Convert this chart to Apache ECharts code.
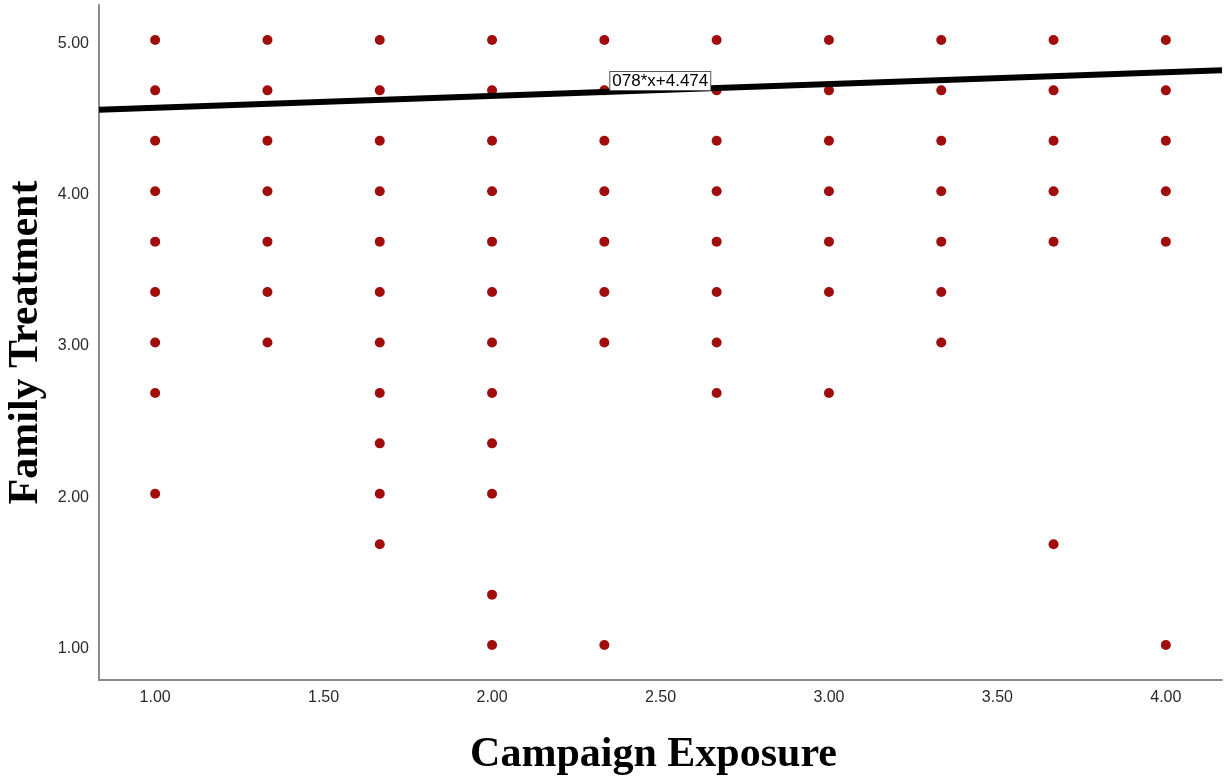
<!DOCTYPE html>
<html>
<head>
<meta charset="utf-8">
<script src="https://cdn.jsdelivr.net/npm/echarts@6/dist/echarts.min.js"></script>
<style>
  html, body { margin: 0; padding: 0; background: #fff; }
  #chart { width: 1225px; height: 778px; }
</style>
</head>
<body>
<div id="chart"></div>
<script>
// Campaign exposure levels (x) and the family treatment scores seen at each level
const exposureLevels = [1, 4/3, 5/3, 2, 7/3, 8/3, 3, 10/3, 11/3, 4];
const treatmentByLevel = [
  [5, 14/3, 13/3, 4, 11/3, 10/3, 3, 8/3, 2],
  [5, 14/3, 13/3, 4, 11/3, 10/3, 3],
  [5, 14/3, 13/3, 4, 11/3, 10/3, 3, 8/3, 7/3, 2, 5/3],
  [5, 14/3, 13/3, 4, 11/3, 10/3, 3, 8/3, 7/3, 2, 4/3, 1],
  [5, 14/3, 13/3, 4, 11/3, 10/3, 3, 1],
  [5, 14/3, 13/3, 4, 11/3, 10/3, 3, 8/3],
  [5, 14/3, 13/3, 4, 11/3, 10/3, 8/3],
  [5, 14/3, 13/3, 4, 11/3, 10/3, 3],
  [5, 14/3, 13/3, 4, 11/3, 5/3],
  [5, 14/3, 13/3, 4, 11/3, 1]
];
const xTicks = [1.0, 1.5, 2.0, 2.5, 3.0, 3.5, 4.0];
const yTicks = [1, 2, 3, 4, 5];
const fitSlope = 0.078;
const fitIntercept = 4.474;
const fitLabel = '078*x+4.474';

const xMin = 5/6, xMax = 25/6;
const yMin = 0.769, yMax = 5.231;

const points = [];
exposureLevels.forEach((x, i) => {
  treatmentByLevel[i].forEach(y => points.push([x, y]));
});
const fitLine = [
  [xMin, fitIntercept + fitSlope * xMin],
  [xMax, fitIntercept + fitSlope * xMax]
];

const chart = echarts.init(document.getElementById('chart'));
const axisLineStyle = { color: '#8c8c8c', width: 2 };
const tickFont = { color: '#2a2a2a', fontSize: 16, fontFamily: 'Arial, Liberation Sans, sans-serif' };
const titleFont = { fontFamily: 'Liberation Serif, Times New Roman, serif', fontWeight: 'bold', fontSize: 42, color: '#000' };

chart.setOption({
  animation: false,
  backgroundColor: '#fff',
  grid: { left: 99, right: 3, top: 5, bottom: 98, containLabel: false, outerBoundsMode: 'none' },
  xAxis: {
    type: 'value', min: xMin, max: xMax,
    axisLine: { show: true, lineStyle: axisLineStyle },
    axisTick: { show: false },
    splitLine: { show: false },
    axisLabel: Object.assign({
      customValues: xTicks,
      formatter: v => v.toFixed(2),
      margin: 10
    }, tickFont),
    name: 'Campaign Exposure',
    nameLocation: 'middle',
    nameGap: 54,
    nameTextStyle: Object.assign({ padding: [0, 14, 0, 0] }, titleFont)
  },
  yAxis: {
    type: 'value', min: yMin, max: yMax,
    axisLine: { show: true, lineStyle: axisLineStyle },
    axisTick: { show: false },
    splitLine: { show: false },
    axisLabel: Object.assign({
      customValues: yTicks,
      formatter: v => v.toFixed(2),
      margin: 10,
      verticalAlign: 'top',
      lineHeight: 7
    }, tickFont),
    name: 'Family Treatment',
    nameLocation: 'middle',
    nameGap: 48,
    nameRotate: 90,
    nameTextStyle: titleFont
  },
  series: [
    {
      type: 'scatter',
      data: points,
      symbol: 'circle',
      symbolSize: 10,
      itemStyle: { color: '#a00d0d', opacity: 1 },
      z: 2
    },
    {
      type: 'line',
      data: fitLine,
      symbol: 'none',
      lineStyle: { color: '#000', width: 6 },
      z: 3
    }
  ]
});

// Equation box for the fitted line, placed at a point on the x scale
const boxPos = chart.convertToPixel({ gridIndex: 0 }, [2.348, 5.231 - 66 / 151.25]);
chart.setOption({
  graphic: [{
    type: 'text',
    left: boxPos[0],
    top: boxPos[1],
    z: 10,
    style: {
      text: fitLabel,
      fontSize: 17,
      fontFamily: 'Arial, Liberation Sans, sans-serif',
      fill: '#000',
      backgroundColor: '#fff',
      borderColor: '#555',
      borderWidth: 1,
      padding: [1, 2, 0, 2]
    }
  }]
});
</script>
</body>
</html>
